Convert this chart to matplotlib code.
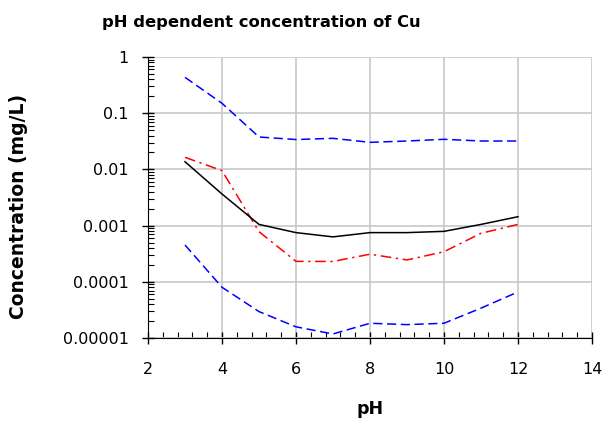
import numpy as np
import matplotlib.pyplot as plt
from matplotlib.ticker import LogLocator, MultipleLocator, FixedLocator

# pH values and concentrations (mg/L)
ph = [3, 4, 5, 6, 7, 8, 9, 10, 11, 12]
cu_median = [0.0137, 0.00365, 0.00105, 0.00075, 0.00063, 0.00075, 0.00075, 0.00079, 0.00105, 0.00144]
cu_model = [0.0164, 0.0095, 0.00078, 0.000231, 0.00023, 0.00031, 0.000245, 0.000343, 0.00073, 0.00105]
cu_upper = [0.435, 0.15, 0.0377, 0.034, 0.0357, 0.0303, 0.032, 0.0343, 0.032, 0.032]
cu_lower = [0.000452, 8.0e-5, 2.95e-5, 1.58e-5, 1.18e-5, 1.83e-5, 1.73e-5, 1.83e-5, 3.4e-5, 6.6e-5]

fig = plt.figure(figsize=(6.08, 4.25), dpi=100)
ax = fig.add_axes([0.2434, 0.2047, 0.7303, 0.6612])

ax.plot(ph, cu_upper, color='blue', lw=1.1, dashes=(6, 3))
ax.plot(ph, cu_lower, color='blue', lw=1.1, dashes=(6, 3))
ax.plot(ph, cu_model, color='red', lw=1.1, dashes=(7, 3, 1.5, 3))
ax.plot(ph, cu_median, color='black', lw=1.1)

ax.set_yscale('log')
ax.set_ylim(1e-5, 1)
ax.set_xlim(2, 14)
ax.xaxis.set_major_locator(MultipleLocator(2))
ax.xaxis.set_minor_locator(MultipleLocator(0.4))
ax.yaxis.set_major_locator(FixedLocator([1e-5, 1e-4, 1e-3, 1e-2, 1e-1, 1]))
ax.yaxis.set_minor_locator(LogLocator(base=10, subs=np.arange(2, 10), numticks=20))
ax.set_yticklabels(['0.00001', '0.0001', '0.001', '0.01', '0.1', '1'])
ax.yaxis.set_minor_formatter(plt.NullFormatter())

ax.grid(True, which='major', color='#c8c8c8', lw=1.2)
ax.set_axisbelow(True)
for s in ['top', 'right']:
    ax.spines[s].set_visible(False)

ax.tick_params(which='major', direction='inout', length=8, width=1, labelsize=11.5)
ax.tick_params(which='minor', direction='in', length=4, width=0.8)
ax.tick_params(axis='y', which='major', pad=10)
ax.tick_params(axis='x', which='major', pad=13)

fig.text(261 / 608, 1 - 22 / 425, 'pH dependent concentration of Cu',
         fontsize=11.8, fontweight='bold', ha='center', va='center')
ax.set_xlabel('pH', fontsize=12.5, fontweight='bold', labelpad=17)
ax.set_ylabel('Concentration (mg/L)', fontsize=13.5, fontweight='bold')
ax.yaxis.set_label_coords(-(148 - 28) / 444, (338 - 206) / 281)

fig.savefig('out.png', dpi=100)
